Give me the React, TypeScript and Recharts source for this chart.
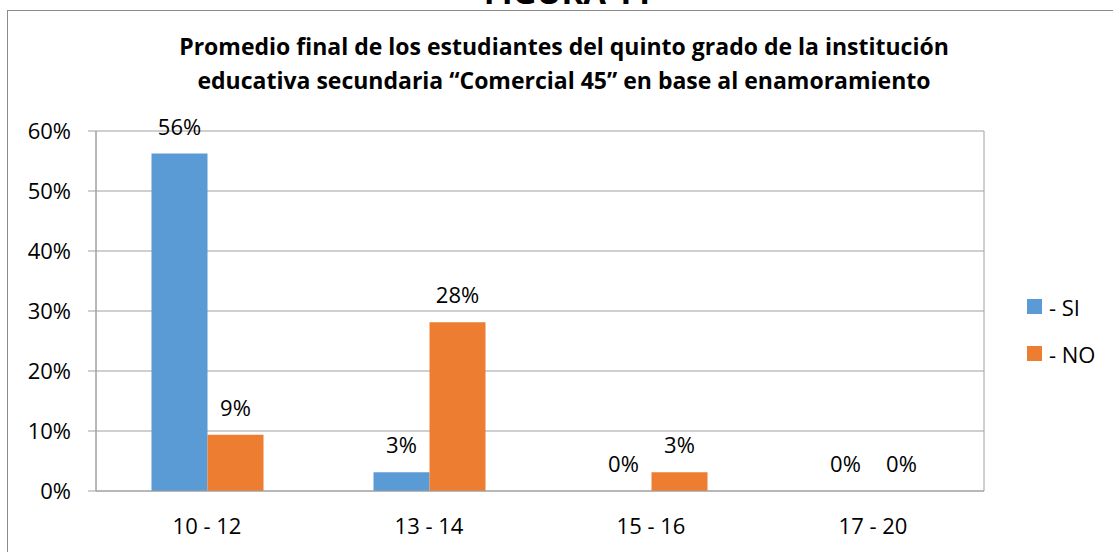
import React from 'react';
import { BarChart, Bar, XAxis, YAxis, CartesianGrid, LabelList, Legend } from 'recharts';

const categories = ['10 - 12', '13 - 14', '15 - 16', '17 - 20'];
const siValues = [0.5625, 0.03125, 0, 0];
const noValues = [0.09375, 0.28125, 0.03125, 0];
const yTicks = [0, 0.1, 0.2, 0.3, 0.4, 0.5, 0.6];
const boundaryTicks = [0, 1, 2, 3, 4];
const seriesNames = ['- SI', '- NO'];
const seriesColors = ['#5B9BD5', '#ED7D31'];
const titleLines = [
  'Promedio final de los estudiantes del quinto grado de la institución',
  'educativa secundaria “Comercial 45” en base al enamoramiento',
];
const figureLabel = 'FIGURA 11';

const data = categories.map((c, i) => ({ category: c, si: siValues[i], no: noValues[i] }));

const FONT = '"Open Sans", sans-serif';
const GRID = '#a0a0a0';
const FS = 22;
const pct = (v: number) => `${Math.round(v * 100)}%`;

const renderLegend = (props: any) => {
  const payload = [...(props.payload || [])].sort(
    (a: any, b: any) => seriesNames.indexOf(a.value) - seriesNames.indexOf(b.value)
  );
  return (
    <div style={{ fontFamily: FONT, fontSize: FS, color: '#000' }}>
      {payload.map((e: any, i: number) => (
        <div key={i} style={{ display: 'flex', alignItems: 'center', height: 47 }}>
          <span style={{ display: 'inline-block', width: 15, height: 15, background: e.color, marginRight: 7 }} />
          <span>{e.value}</span>
        </div>
      ))}
    </div>
  );
};

export default function App() {
  return (
    <div style={{ position: 'absolute', left: 0, top: 0, width: 1113, height: 552, overflow: 'hidden', background: '#fff' }}>
      <div style={{ position: 'absolute', left: 0, top: -28, width: 1136, textAlign: 'center', fontFamily: FONT, fontWeight: 700, fontSize: 33, lineHeight: '40px', color: '#000' }}>
        {figureLabel}
      </div>
      <div style={{ position: 'absolute', left: 7, top: 10, width: 1200, height: 700, border: '1px solid #8c8c8c' }} />
      <div style={{ position: 'absolute', left: 0, top: 29, width: 1128, textAlign: 'center', fontFamily: FONT, fontWeight: 700, fontSize: 23, lineHeight: '34px', color: '#000' }}>
        {titleLines.map((t, i) => (
          <div key={i}>{t}</div>
        ))}
      </div>
      <div style={{ position: 'absolute', left: 0, top: 0 }}>
        <BarChart
          width={1113}
          height={552}
          data={data}
          margin={{ top: 131, right: 129, bottom: 20, left: 36 }}
          barCategoryGap="25%"
          barGap={0}
        >
          <CartesianGrid stroke={GRID} xAxisId="grid" />
          <XAxis
            xAxisId="grid"
            type="number"
            domain={[0, 4]}
            ticks={boundaryTicks}
            allowDataOverflow
            tick={false}
            tickSize={8}
            axisLine={false}
            tickLine={{ stroke: GRID }}
            height={1}
          />
          <XAxis
            xAxisId="cat"
            dataKey="category"
            tickLine={false}
            tickSize={0}
            tickMargin={27}
            axisLine={{ stroke: GRID }}
            tick={{ fontFamily: FONT, fontSize: FS, fill: '#000' }}
            height={40}
          />
          <YAxis
            domain={[0, 0.6]}
            ticks={yTicks}
            tickFormatter={pct}
            width={60}
            tickSize={8}
            tickMargin={17}
            axisLine={{ stroke: GRID }}
            tickLine={{ stroke: GRID }}
            tick={{ fontFamily: FONT, fontSize: FS, fill: '#000' }}
          />
          <Legend
            layout="horizontal"
            verticalAlign="middle"
            align="center"
            content={renderLegend}
            wrapperStyle={{ left: 1027, top: 283, width: 86, height: 94 }}
          />
          <Bar xAxisId="cat" dataKey="si" name={seriesNames[0]} fill={seriesColors[0]} minPointSize={0.01} isAnimationActive={false}>
            <LabelList dataKey="si" position="top" offset={19} formatter={pct} style={{ fontFamily: FONT, fontSize: FS, fill: '#000' }} />
          </Bar>
          <Bar xAxisId="cat" dataKey="no" name={seriesNames[1]} fill={seriesColors[1]} minPointSize={0.01} isAnimationActive={false}>
            <LabelList dataKey="no" position="top" offset={19} formatter={pct} style={{ fontFamily: FONT, fontSize: FS, fill: '#000' }} />
          </Bar>
        </BarChart>
      </div>
    </div>
  );
}
